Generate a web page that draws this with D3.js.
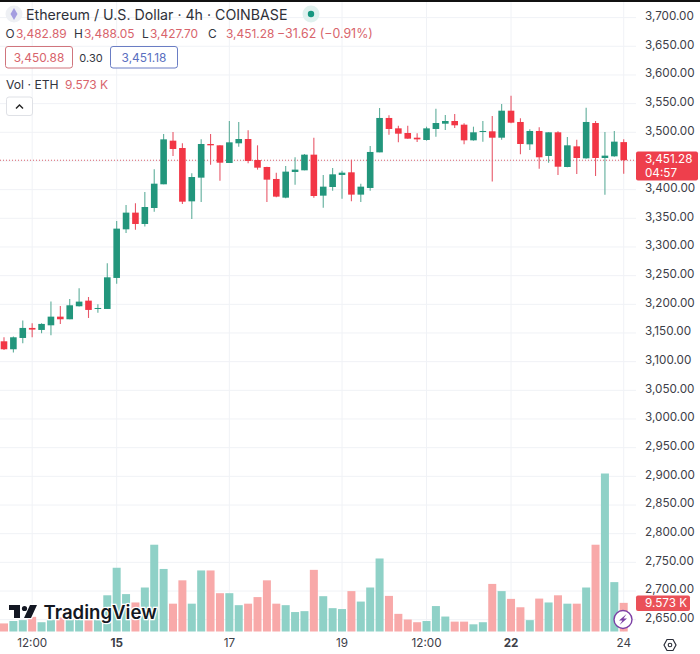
<!DOCTYPE html>
<html>
  <head>
    <meta charset="utf-8">
    <script src="https://d3js.org/d3.v7.min.js" type="text/javascript"></script>
    <style>
    html, body { margin: 0; padding: 0; background: #fff; }
    svg { display: block; }
    text { font-family: Inter, "Noto Sans", sans-serif; }
    .axis path { display: none; }
    .axis line { display: none; }
    .axis text { font-size: 11.7px; fill: #3d4048; }
    .grid line { stroke: #f0f2f6; stroke-width: 1; }
    </style>
  </head>
  <body>
    <script>

    var opens = [3135.5,3121.6,3141.3,3158.8,3155.3,3163.4,3178.5,3173.9,3196.6,3206.4,3191.9,3191.9,3246,3330.8,3359.9,3340.1,3368,3409.3,3485.4,3472.6,3379.6,3420.9,3479.6,3477.3,3446.5,3480.8,3488.3,3451.7,3439.5,3418.6,3386,3430.8,3433.7,3461,3389.5,3404.6,3425.6,3430.2,3391.3,3402.9,3465,3525,3506.9,3498.8,3490.6,3486.6,3505.8,3515,3519.7,3513.3,3486,3500.5,3501.7,3490.6,3537.7,3518,3479,3502.3,3458.7,3500,3439.5,3475.5,3454.6,3516.2,3455.2,3458.1,3482.89];
    var highs = [3142.5,3143.7,3171.6,3167,3167,3204.7,3197.1,3209.3,3228,3212.8,3200,3271.5,3345.3,3373.2,3376.1,3395.9,3435.4,3497,3500.5,3480.7,3428.5,3487.7,3497,3477.3,3519.7,3518,3503.4,3477.3,3440,3429.6,3441.2,3456.4,3462.2,3490.6,3425.6,3437.8,3433.1,3452.3,3410.4,3476.1,3542.4,3529.6,3511.6,3511.6,3498.2,3509.8,3541.2,3530.2,3531.9,3515.6,3509.8,3519.7,3528.4,3549.4,3563.9,3524.4,3505.2,3508.7,3500,3501.7,3491.8,3487.2,3543,3519.7,3500.5,3502.3,3488.05];
    var lows = [3120.4,3115.8,3132,3142.5,3149.5,3146,3165.8,3173.9,3196,3176.2,3185.5,3191.9,3236,3324.4,3330.2,3335.5,3361.6,3409.3,3458.7,3375,3348.8,3378.5,3443.6,3415.7,3446.5,3475,3445.9,3434.9,3378.5,3386.6,3384.9,3408.7,3433.7,3386,3368.6,3398.2,3384.3,3379.6,3378.5,3398.2,3465,3495.9,3482.5,3488.9,3483,3485.4,3492.4,3504,3507.5,3479,3485.4,3483.7,3414,3487.2,3515.6,3461.6,3469.1,3436.6,3447,3425.6,3439,3427.3,3454,3423.8,3391.3,3457.5,3427.7];
    var closes = [3121.6,3142.5,3158.8,3155.9,3165.8,3178.5,3173.9,3198.3,3204.7,3190.2,3193.6,3247.1,3332,3359.9,3340.1,3369.7,3410.4,3487.7,3470.9,3379,3422,3479.6,3477.3,3447,3482.5,3488.3,3450,3438.3,3417.4,3387.8,3431.4,3434.9,3461,3388.9,3405.2,3426.7,3429.6,3391.3,3405.2,3465.7,3525,3505.8,3497.6,3488.9,3487.7,3506.9,3516.2,3519.7,3512.2,3486,3500,3502.3,3490.6,3537.7,3516.8,3479.6,3502.3,3456.4,3500,3440,3477.3,3455.2,3518,3455.2,3459.3,3483.7,3451.28];
    var volumes = [2.7,3.5,3.8,4.9,3.1,3.8,4.7,4.0,4.0,3.8,3.8,12.1,21.3,12.5,9.7,14.7,29.0,20.9,9.3,17.1,9.3,20.4,20.4,12.8,12.8,8.8,9.3,11.5,17.1,9.3,8.8,6.5,6.8,20.6,11.8,7.8,7.5,13.5,10.0,14.7,24.4,11.9,5.9,4.0,3.1,3.5,8.5,5.0,3.3,3.3,2.4,3.1,15.9,13.5,10.9,8.1,3.8,11.0,9.7,12.1,9.3,9.3,14.7,29.0,52.8,16.5,9.573];

    var priceTicks = [3700,3650,3600,3550,3500,3400,3350,3300,3250,3200,3150,3100,3050,3000,2950,2900,2850,2800,2750,2700,2650];
    var gridPrices = [3700,3650,3600,3550,3500,3450,3400,3350,3300,3250,3200,3150,3100,3050,3000,2950,2900,2850,2800,2750,2700,2650];
    var timeIndex = [3,12,24,36,45,54,66];
    var timeLabels = ["12:00","15","17","19","12:00","22","24"];
    var boldLabels = ["15","22"];
    var lastPrice = 3451.28;

    var width = 700, height = 654, paneRight = 636;
    var green = "#22967c", red = "#f23645";
    var greenVol = "#8fd1c7", redVol = "#f8a9a9";
    var textRed = "#d8646c", dark = "#33363f";

    var x = d3.scaleBand().domain(d3.range(opens.length)).range([-0.7, 628.4]);
    var y = d3.scaleLinear().domain([3500, 2850]).range([132.3, 505]);
    var yVol = d3.scaleLinear().domain([0, 52.8]).range([631.5, 473.5]);
    var cx = function(i) { return x(i) + x.bandwidth() / 2; };
    var up = function(i) { return closes[i] >= opens[i]; };

    var svg = d3.select("body").append("svg")
        .attr("width", width)
        .attr("height", height);

    svg.append("rect").attr("width", width).attr("height", 2).attr("fill", "#111");

    // grid
    var grid = svg.append("g").attr("class", "grid");
    grid.selectAll(".h").data(gridPrices).enter().append("line")
        .attr("x1", 0).attr("x2", paneRight)
        .attr("y1", function(d) { return y(d); })
        .attr("y2", function(d) { return y(d); });
    grid.selectAll(".v").data(timeIndex).enter().append("line")
        .attr("x1", cx).attr("x2", cx)
        .attr("y1", 2).attr("y2", 632);

    // volume
    svg.append("g").selectAll("rect").data(volumes).enter().append("rect")
        .attr("x", function(d, i) { return cx(i) - 4; })
        .attr("width", 8)
        .attr("y", function(d) { return yVol(d); })
        .attr("height", function(d) { return yVol(0) - yVol(d); })
        .attr("fill", function(d, i) { return up(i) ? greenVol : redVol; });

    // last price line
    svg.append("line")
        .attr("x1", 0).attr("x2", paneRight)
        .attr("y1", y(lastPrice)).attr("y2", y(lastPrice))
        .attr("stroke", "#d9606a").attr("stroke-width", 1)
        .attr("stroke-dasharray", "1 2");

    // candles
    var candles = svg.append("g").selectAll("g").data(d3.range(opens.length)).enter().append("g");
    candles.append("line")
        .attr("x1", cx).attr("x2", cx)
        .attr("y1", function(i) { return y(highs[i]); })
        .attr("y2", function(i) { return y(lows[i]); })
        .attr("stroke", function(i) { return up(i) ? "#5fae9b" : "#e8596a"; })
        .attr("stroke-width", 1.1);
    candles.append("rect")
        .attr("x", function(i) { return cx(i) - 3.3; })
        .attr("width", 6.6)
        .attr("y", function(i) { return y(Math.max(opens[i], closes[i])); })
        .attr("height", function(i) { return Math.max(1, Math.abs(y(opens[i]) - y(closes[i]))); })
        .attr("fill", function(i) { return up(i) ? green : red; });

    // price axis
    var yAxis = d3.axisRight(y).tickValues(priceTicks).tickSize(0).tickPadding(0)
        .tickFormat(d3.format(",.2f"));
    svg.append("g").attr("class", "axis")
        .attr("transform", "translate(645,-1.8)")
        .call(yAxis);

    // time axis
    var xAxis = d3.axisBottom(x).tickValues(timeIndex).tickSize(0).tickPadding(0)
        .tickFormat(function(d) { return timeLabels[timeIndex.indexOf(d)]; });
    svg.append("g").attr("class", "axis")
        .attr("transform", "translate(0,639)")
        .call(xAxis)
        .selectAll("text")
        .style("font-weight", function(d) {
            return boldLabels.indexOf(timeLabels[timeIndex.indexOf(d)]) >= 0 ? 700 : 400;
        });

    function label(txt, px, py, size, fill, anchor, weight) {
        return svg.append("text")
            .attr("x", px).attr("y", py)
            .attr("font-size", size)
            .attr("fill", fill)
            .attr("text-anchor", anchor || "start")
            .attr("font-weight", weight || 400)
            .text(txt);
    }

    // price tag
    svg.append("rect").attr("x", 636).attr("y", 151.5).attr("width", 62).attr("height", 29)
        .attr("rx", 2).attr("fill", "#ee3f4c");
    label(d3.format(",.2f")(lastPrice), 645, 162.6, 11.7, "#fff");
    label("04:57", 645, 176.8, 11.7, "#fff");

    // volume tag
    svg.append("rect").attr("x", 636).attr("y", 595.5).attr("width", 54).attr("height", 15.5)
        .attr("rx", 2).attr("fill", "#ea5058");
    label("9.573 K", 645, 607.4, 11.7, "#fff");

    // header
    svg.append("circle").attr("cx", 14).attr("cy", 14).attr("r", 8.5).attr("fill", "#eef0f4");
    svg.append("path").attr("d", "M14,8 L17.5,14 L14,20 L10.5,14 Z").attr("fill", "#a49de0");
    label("Ethereum / U.S. Dollar · 4h · COINBASE", 26, 19.5, 14.2, "#2e3038");
    svg.append("circle").attr("cx", 311).attr("cy", 14).attr("r", 8.5).attr("fill", "#dff1ee");
    svg.append("circle").attr("cx", 311).attr("cy", 14).attr("r", 3.2).attr("fill", "#16977f");

    label("O", 5.5, 38.3, 11.9, dark);
    label("3,482.89", 16, 38.3, 11.9, textRed);
    label("H", 74, 38.3, 11.9, dark);
    label("3,488.05", 84, 38.3, 11.9, textRed);
    label("L", 142, 38.3, 11.9, dark);
    label("3,427.70", 150, 38.3, 11.9, textRed);
    label("C", 208, 38.3, 11.9, dark);
    label("3,451.28", 226, 38.3, 11.9, textRed);
    label("−31.62 (−0.91%)", 277, 38.3, 12.4, textRed);

    svg.append("rect").attr("x", 5.5).attr("y", 46.5).attr("width", 67).attr("height", 21.5)
        .attr("rx", 2.5).attr("fill", "#fff").attr("stroke", "#d0757d");
    label("3,450.88", 39, 61.8, 11.9, textRed, "middle");
    label("0.30", 91, 61.8, 11, dark, "middle");
    svg.append("rect").attr("x", 110.5).attr("y", 46.5).attr("width", 67).attr("height", 21.5)
        .attr("rx", 2.5).attr("fill", "#fff").attr("stroke", "#6a7dc4");
    label("3,451.18", 144, 61.8, 11.9, "#5a6fc0", "middle");

    label("Vol · ETH", 6, 88.5, 12.2, dark);
    label("9.573 K", 65, 88.5, 12, textRed);

    svg.append("rect").attr("x", 6.5).attr("y", 97).attr("width", 26).attr("height", 18.5)
        .attr("rx", 2.5).attr("fill", "#fff").attr("stroke", "#dfe1e6");
    svg.append("path").attr("d", "M16,108.5 L19.5,105 L23,108.5")
        .attr("fill", "none").attr("stroke", "#222").attr("stroke-width", 1.4);

    // logo
    var logo = svg.append("g");
    logo.append("path")
        .attr("d", "M9,605 H20 V618 H14 V610 H9 Z M24,618 L30,605 H37 L31,618 Z")
        .attr("fill", "#131722").attr("stroke", "#fff").attr("stroke-width", 2.5)
        .attr("paint-order", "stroke");
    logo.append("circle").attr("cx", 24.5).attr("cy", 608.5).attr("r", 2.6).attr("fill", "#131722");
    label("TradingView", 43.5, 618.5, 18.6, "#131722", "start", 600)
        .attr("stroke", "#fff").attr("stroke-width", 2.5).attr("paint-order", "stroke");

    // bolt button
    svg.append("circle").attr("cx", 623).attr("cy", 619.5).attr("r", 9)
        .attr("fill", "#fff").attr("stroke", "#7b3fa5").attr("stroke-width", 1.4);
    svg.append("path").attr("d", "M626.5,614 L619,620.5 L622.5,620.5 L619.5,625 L627,618.5 L623.5,618.5 Z")
        .attr("fill", "#7b3fa5");

    // settings
    svg.append("path").attr("d", "M664,645 L667,639.5 H673 L676,645 L673,650.5 H667 Z")
        .attr("fill", "none").attr("stroke", "#2a2e39").attr("stroke-width", 1.2);
    svg.append("circle").attr("cx", 670).attr("cy", 645).attr("r", 1.8)
        .attr("fill", "none").attr("stroke", "#2a2e39").attr("stroke-width", 1.1);

    </script>
  </body>
</html>
